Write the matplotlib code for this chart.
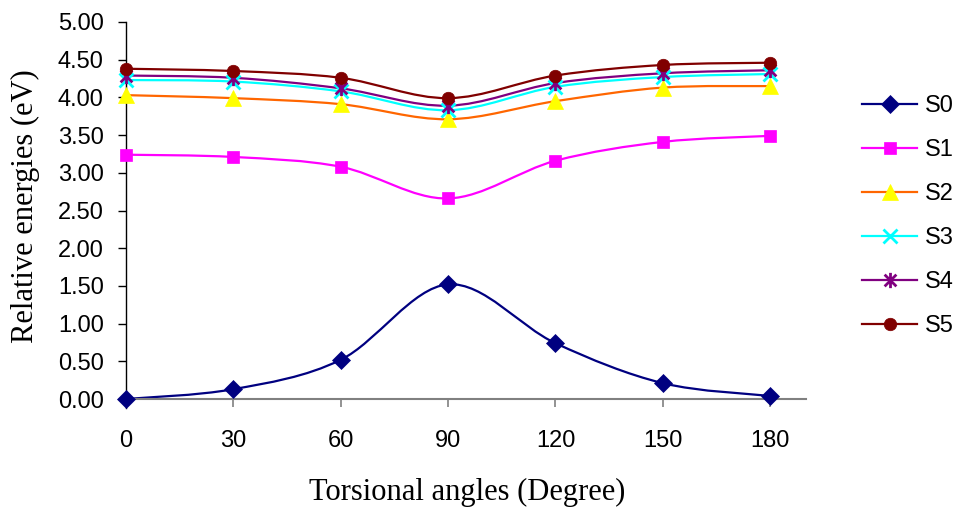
import matplotlib
matplotlib.use("Agg")
import matplotlib.pyplot as plt
import numpy as np
from matplotlib.path import Path
from matplotlib.patches import PathPatch
from matplotlib.lines import Line2D

angles = [0, 30, 60, 90, 120, 150, 180]
s0 = [0.00, 0.13, 0.52, 1.52, 0.74, 0.21, 0.04]
s1 = [3.24, 3.21, 3.08, 2.66, 3.16, 3.41, 3.49]
s2 = [4.03, 3.99, 3.91, 3.71, 3.95, 4.13, 4.15]
s3 = [4.23, 4.21, 4.08, 3.83, 4.14, 4.27, 4.31]
s4 = [4.29, 4.26, 4.12, 3.89, 4.19, 4.32, 4.36]
s5 = [4.38, 4.35, 4.26, 3.99, 4.29, 4.43, 4.46]
names = ["S0", "S1", "S2", "S3", "S4", "S5"]
yticks = [0, 0.5, 1, 1.5, 2, 2.5, 3, 3.5, 4, 4.5, 5]
xticks = [0, 30, 60, 90, 120, 150, 180]

series = [s0, s1, s2, s3, s4, s5]
line_colors = ["#000080", "#FF00FF", "#FF6600", "#00FFFF", "#800080", "#800000"]
face_colors = ["#000080", "#FF00FF", "#FFFF00", "#00FFFF", "#800080", "#800000"]
star = Path([(-1, -1), (1, 1), (-1, 1), (1, -1), (0, -1.3), (0, 1.3)],
            [Path.MOVETO, Path.LINETO, Path.MOVETO, Path.LINETO, Path.MOVETO, Path.LINETO])
markers = ["D", "s", "^", "x", star, "o"]
msizes = [9, 9, 11, 10, 11, 9]

SANS = "Liberation Sans"
SERIF = "Liberation Serif"
TICK_FS = 17
LABEL_FS = 22

fig = plt.figure(figsize=(9.63, 5.09), dpi=100)
ax = fig.add_axes([126 / 963, 1 - 399 / 509, (806 - 126) / 963, (399 - 22) / 509])
ax.set_xlim(0, 190)
ax.set_ylim(0, 5)


def smooth_path(x, y):
    pts = np.column_stack([x, y]).astype(float)
    n = len(pts)
    verts = [pts[0]]
    codes = [Path.MOVETO]
    for i in range(n - 1):
        p0 = pts[i - 1] if i > 0 else pts[i]
        p1 = pts[i]
        p2 = pts[i + 1]
        p3 = pts[i + 2] if i + 2 < n else pts[i + 1]
        c1 = p1 + (p2 - p0) / 6.0
        c2 = p2 - (p3 - p1) / 6.0
        verts += [c1, c2, p2]
        codes += [Path.CURVE4] * 3
    return Path(verts, codes)


handles = []
for i, (vals, name) in enumerate(zip(series, names)):
    patch = PathPatch(smooth_path(angles, vals), facecolor="none",
                      edgecolor=line_colors[i], lw=1.6, zorder=2 + i * 0.1,
                      transform=ax.transData, clip_on=False)
    ax.add_patch(patch)
    unfilled = markers[i] in ("x",) or markers[i] is star
    kw = dict(marker=markers[i], markersize=msizes[i],
              markerfacecolor=("none" if unfilled else face_colors[i]),
              markeredgecolor=face_colors[i],
              markeredgewidth=(2 if unfilled else 0.5))
    ax.plot(angles, vals, linestyle="none", zorder=3 + i * 0.1, clip_on=False, **kw)
    handles.append(Line2D([0], [0], color=line_colors[i], lw=1.6, linestyle="-", **kw))

ax.spines["top"].set_visible(False)
ax.spines["right"].set_visible(False)
ax.spines["left"].set_color("black")
ax.spines["left"].set_bounds(-0.12, 5)
ax.spines["bottom"].set_color("#808080")
ax.spines["bottom"].set_linewidth(1.5)
ax.spines["left"].set_linewidth(1.0)

ax.set_yticks(yticks)
ax.set_yticklabels([f"{v:.2f}" for v in yticks], fontfamily=SANS, fontsize=TICK_FS)
ax.set_xticks(xticks)
ax.set_xticklabels([str(v) for v in xticks], fontfamily=SANS, fontsize=TICK_FS)
ax.tick_params(axis="y", direction="out", length=6, width=1, color="black", pad=10)
ax.tick_params(axis="x", direction="out", length=6, width=1.2, color="#808080", pad=16)

fig.text(467 / 963, 1 - 492 / 509, "Torsional angles (Degree)", fontfamily=SERIF,
         fontsize=LABEL_FS, ha="center", va="center")
fig.text(25 / 963, 1 - 206 / 509, "Relative energies (eV)", fontfamily=SERIF,
         fontsize=LABEL_FS, ha="center", va="center", rotation=90)

fig.legend(handles=handles, labels=names, loc="upper left",
           bbox_to_anchor=(862 / 963, 1 - 95 / 509), frameon=False,
           prop={"family": SANS, "size": TICK_FS}, handlelength=2.35,
           labelspacing=0.93, handletextpad=0.3, borderpad=0.0, borderaxespad=0.0)

fig.savefig("out.png", dpi=100, facecolor="white")
